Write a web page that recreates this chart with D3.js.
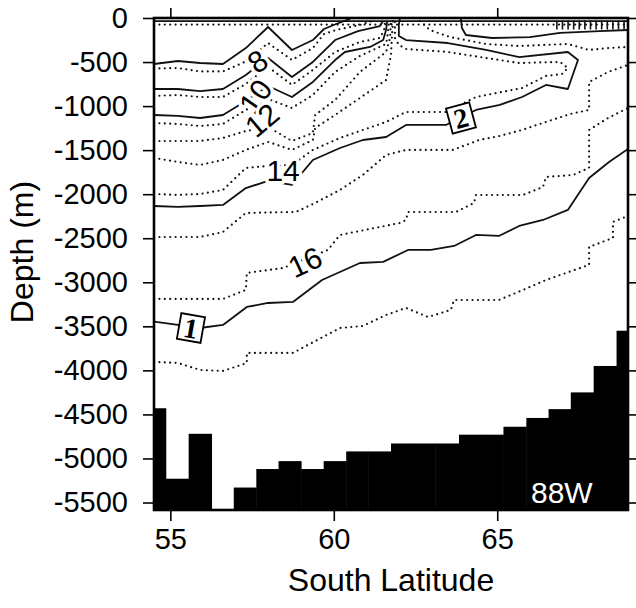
<!DOCTYPE html>
<html>
<head>
<meta charset="utf-8">
<script src="https://cdnjs.cloudflare.com/ajax/libs/d3/7.8.5/d3.min.js"></script>
<style>
  body { margin: 0; background: #fff; }
  text { font-family: 'Liberation Sans', Arial, Helvetica, sans-serif; }
</style>
</head>
<body>
<div id="grafica"></div>
<script>
// ticks
depthTicks = [0, -500, -1000, -1500, -2000, -2500, -3000, -3500, -4000, -4500, -5000, -5500]
latTicks   = [55, 60, 65]

// bottom topography: left edge of every station bin and its depth (right end at 69)
bottomLat   = [54.5, 54.86, 55.56, 56.26, 56.94, 57.63, 58.31, 59.0, 59.69, 60.38, 61.05,
               61.75, 62.42, 63.1, 63.83, 64.5, 65.19, 65.89, 66.57, 67.25, 67.95, 68.65]
bottomDepth = [-4430, -5230, -4720, -5600, -5330, -5120, -5030, -5120, -5030, -4920, -4920,
               -4830, -4830, -4830, -4730, -4730, -4640, -4540, -4440, -4250, -3950, -3550]

// contours as [latitude, depth] pairs
surfaceSolid = [[54.5, -35], [69, -35]]
surfaceDot   = [[54.5, -75], [69, -75]]
crowdedTop   = [[66.8, -80], [69, -80]]

contourS1 = [[54.5,-522],[55.23,-488],[55.91,-511],[56.61,-522],[57.31,-341],[57.99,-102],[58.72,-363],
             [59.36,-250],[59.70,-125],[60.07,-68],[60.50,-11]]
contourD1 = [[54.5,-573],[55.23,-568],[55.91,-607],[56.61,-607],[57.31,-494],[57.99,-284],[58.72,-477],
             [59.36,-341],[59.70,-182],[60.07,-136],[60.80,-79],[61.17,-34]]
contourS2 = [[54.5,-806],[55.23,-806],[55.91,-829],[56.61,-806],[57.31,-647],[57.99,-454],[58.72,-670],
             [59.36,-499],[60.04,-250],[60.74,-148],[61.41,-91],[61.51,-34]]
contourD2 = [[54.5,-885],[55.23,-874],[55.91,-897],[56.61,-897],[57.31,-749],[57.99,-556],[58.72,-760],
             [59.36,-590],[60.04,-386],[60.80,-272],[61.41,-227],[61.54,-136],[61.57,-34]]
contourS3 = [[54.5,-1101],[55.23,-1112],[55.91,-1135],[56.61,-1101],[57.31,-942],[57.99,-772],[58.72,-897],
             [59.36,-726],[60.04,-477],[60.34,-386],[61.11,-329],[61.51,-250],[61.60,-136],[61.63,-34]]
contourD3 = [[54.5,-1192],[55.23,-1203],[55.91,-1226],[56.61,-1203],[57.31,-1044],[57.99,-919],[58.72,-1022],
             [59.36,-874],[60.04,-613],[60.80,-431],[61.60,-295],[61.66,-159],[61.69,-34]]
contourD4 = [[54.5,-1396],[55.23,-1396],[55.91,-1396],[56.61,-1362],[57.31,-1283],[57.99,-1237],[58.72,-1396],
             [59.36,-1305],[59.43,-1101],[60.04,-931],[60.80,-613],[61.60,-386],[61.72,-227],[61.75,-34]]
contourD5 = [[54.5,-1589],[55.23,-1634],[55.91,-1668],[56.61,-1612],[57.31,-1498],[57.99,-1407],[58.72,-1498],
             [59.36,-1385],[59.43,-1249],[60.04,-1101],[60.80,-908],[61.60,-704],[61.75,-420],[61.78,-193],[61.81,-34]]
contourD6 = [[54.5,-1998],[55.23,-2009],[55.91,-1998],[56.61,-1952],[57.31,-1702],[57.99,-1680],[58.72,-1668],
             [59.36,-1498],[60.19,-1362],[60.89,-1271],[61.60,-1180],[62.21,-1067],[63.43,-1067],[64.35,-897],
             [65.76,-795],[66.49,-658],[66.98,-636],[67.16,-568],[66.92,-499],[65.67,-511],[64.66,-454],
             [63.49,-386],[62.21,-352],[61.99,-306],[61.87,-227],[61.87,-34]]
contourS4 = [[54.5,-2134],[55.23,-2145],[55.91,-2134],[56.61,-2122],[57.31,-1930],[57.99,-1850],[58.72,-1895],
             [59.36,-1612],[60.19,-1476],[60.89,-1385],[61.60,-1351],[62.21,-1214],[63.43,-1214],[64.35,-1044],
             [65.08,-987],[65.76,-897],[66.49,-760],[67.16,-806],[67.47,-477],[67.16,-386],[65.67,-443],
             [64.66,-363],[63.49,-284],[62.21,-250],[61.99,-204],[61.99,-79],[62.02,-11]]
contourR1 = [[54.5,-2486],[55.91,-2486],[56.61,-2429],[57.31,-2213],[58.84,-2202],[59.43,-2100],[60.19,-1952],
             [60.89,-1782],[61.60,-1555],[62.21,-1498],[63.65,-1498],[64.44,-1385],[65.08,-1339],[65.76,-1271],
             [66.49,-1180],[67.23,-1090],[67.81,-1044],[67.81,-726],[68.39,-613],[69.0,-533]]
contourR2 = [[54.5,-3189],[56.61,-3189],[57.31,-3087],[57.34,-2894],[58.45,-2838],[59.82,-2633],[60.19,-2463],
             [62.02,-2327],[62.21,-2293],[62.27,-2202],[63.74,-2202],[64.29,-2100],[64.35,-2009],[65.79,-2009],
             [66.40,-1918],[66.49,-1805],[67.32,-1782],[67.81,-1702],[67.81,-1271],[68.39,-1135],[69.0,-1022]]
contourS5 = [[54.5,-3447],[55.23,-3484],[55.91,-3519],[56.61,-3484],[57.34,-3280],[57.99,-3235],[58.75,-3223],
             [59.64,-2974],[60.80,-2781],[61.51,-2769],[62.27,-2633],[62.97,-2633],[63.68,-2588],[64.35,-2463],
             [65.05,-2474],[65.67,-2361],[66.40,-2293],[67.16,-2179],[67.81,-1816],[68.42,-1634],[69.0,-1487]]
contourR3 = [[54.5,-3904],[55.23,-3916],[55.91,-3995],[56.61,-4007],[57.34,-3916],[57.34,-3802],[58.75,-3802],
             [60.19,-3519],[60.89,-3496],[61.60,-3371],[62.21,-3292],[62.88,-3394],[63.58,-3314],[63.68,-3201],
             [65.05,-3201],[65.79,-3087],[66.49,-2974],[67.81,-2803],[67.81,-2599],[68.54,-2497],[68.54,-2315],[69.0,-2247]]
contourU1 = [[63.89,-11],[63.92,-114],[64.04,-193],[64.84,-227],[66.0,-216],[66.92,-170],[68.14,-148],[69.0,-136]]
contourU2 = [[62.64,-34],[62.94,-136],[63.55,-216],[64.66,-295],[65.67,-318],[67.16,-295],[67.81,-363],[68.39,-341],[69.0,-329]]

solidLines  = [surfaceSolid, contourS1, contourS2, contourS3, contourS4, contourS5, contourU1]
dottedLines = [surfaceDot, contourD1, contourD2, contourD3, contourD4, contourD5, contourD6,
               contourR1, contourR2, contourR3, contourU2]

// contour labels
labelText  = ['8', '10', '12', '14', '16']
labelLat   = [57.66, 57.60, 57.80, 58.45, 59.12]
labelDepth = [-490, -890, -1158, -1725, -2769]
labelAngle = [-35, -55, -40, 0, -25]

boxText  = ['2', '1']
boxLat   = [63.89, 55.63]
boxDepth = [-1135, -3519]
boxAngle = [-15, 10]

ancho_total = 636
alto_total  = 608
margin = { left: 154, right: 8, top: 18, bottom: 98 }

ancho = ancho_total - margin.left - margin.right
alto  = alto_total - margin.top - margin.bottom

svg = d3
        .select('#grafica')
        .append('svg')
        .attr('width', ancho_total)
        .attr('height', alto_total)

g = svg
      .append('g')
      .attr('transform', `translate(${margin.left}, ${margin.top})`)

x = d3
      .scaleLinear()
      .domain([54.5, 69])
      .range([0, ancho])
y = d3
      .scaleLinear()
      .domain([0, -5585])
      .range([0, alto])

g.append('clipPath')
  .attr('id', 'plotclip')
  .append('rect')
  .attr('width', ancho)
  .attr('height', alto)

plot = g.append('g').attr('clip-path', 'url(#plotclip)')

linea = d3
          .line()
          .x((d) => x(d[0]))
          .y((d) => y(d[1]))

// dotted contours
plot.selectAll('path.dot')
  .data(dottedLines)
  .enter()
  .append('path')
  .attr('class', 'dot')
  .attr('d', linea)
  .attr('fill', 'none')
  .attr('stroke', '#111')
  .attr('stroke-width', 2.2)
  .attr('stroke-linecap', 'round')
  .attr('stroke-dasharray', '0 5.4')

// solid contours
plot.selectAll('path.solid')
  .data(solidLines)
  .enter()
  .append('path')
  .attr('class', 'solid')
  .attr('d', linea)
  .attr('fill', 'none')
  .attr('stroke', '#111')
  .attr('stroke-width', 1.8)
  .attr('stroke-linejoin', 'round')

// crowded lines right under the surface
plot.append('path')
  .attr('d', linea(crowdedTop))
  .attr('stroke', '#111')
  .attr('stroke-width', 9)
  .attr('stroke-dasharray', '1.6 4')

// bottom
bottomBins = bottomLat.map((d, i) => ({
  x0: d,
  x1: i < bottomLat.length - 1 ? bottomLat[i + 1] : 69,
  depth: bottomDepth[i]
}))

plot.selectAll('rect.bottom')
  .data(bottomBins)
  .enter()
  .append('rect')
  .attr('class', 'bottom')
  .attr('x', (d) => x(d.x0))
  .attr('width', (d) => x(d.x1) - x(d.x0) + 0.5)
  .attr('y', (d) => y(d.depth))
  .attr('height', (d) => alto - y(d.depth) + 2)
  .attr('fill', '#000')

// labels on contours
etiquetas = g.selectAll('g.lab')
  .data(labelText)
  .enter()
  .append('g')
  .attr('class', 'lab')
  .attr('transform', (d, i) => `translate(${x(labelLat[i])}, ${y(labelDepth[i])}) rotate(${labelAngle[i]})`)

etiquetas.append('text')
  .attr('text-anchor', 'middle')
  .attr('dy', '0.36em')
  .attr('font-size', '30px')
  .attr('stroke', '#fff')
  .attr('stroke-width', 7)
  .attr('stroke-linejoin', 'round')
  .attr('fill', '#fff')
  .text((d) => d)
etiquetas.append('text')
  .attr('text-anchor', 'middle')
  .attr('dy', '0.36em')
  .attr('font-size', '30px')
  .attr('fill', '#000')
  .text((d) => d)

cajas = g.selectAll('g.box')
  .data(boxText)
  .enter()
  .append('g')
  .attr('class', 'box')
  .attr('transform', (d, i) => `translate(${x(boxLat[i])}, ${y(boxDepth[i])}) rotate(${boxAngle[i]})`)

cajas.append('rect')
  .attr('x', -12)
  .attr('y', -13)
  .attr('width', 24)
  .attr('height', 26)
  .attr('fill', '#fff')
  .attr('stroke', '#000')
  .attr('stroke-width', 1.8)
cajas.append('text')
  .attr('text-anchor', 'middle')
  .attr('dy', '0.35em')
  .attr('font-size', '28px')
  .attr('font-weight', 'bold')
  .style('font-family', "'Liberation Serif', 'Times New Roman', serif")
  .text((d) => d)

// section name
g.append('text')
  .attr('x', ancho - 97)
  .attr('y', alto - 7)
  .attr('font-size', '30px')
  .attr('fill', '#fff')
  .text('88W')

// axes
yAxisCall = d3.axisLeft(y).tickValues(depthTicks).tickSize(11).tickPadding(15).tickFormat((d) => String(d))
yGroup = g.append('g').call(yAxisCall)
yGroup.select('.domain').remove()
yGroup.selectAll('text').attr('font-size', '29px').style('font-family', "'Liberation Sans', Arial, sans-serif")

rAxisCall = d3.axisRight(y).tickValues(depthTicks).tickSize(9).tickFormat('')
rGroup = g.append('g').attr('transform', `translate(${ancho}, 0)`).call(rAxisCall)
rGroup.select('.domain').remove()

xAxisCall = d3.axisBottom(x).tickValues(latTicks).tickSize(11).tickPadding(7).tickFormat((d) => String(d))
xGroup = g.append('g').attr('transform', `translate(0, ${alto})`).call(xAxisCall)
xGroup.select('.domain').remove()
xGroup.selectAll('text').attr('font-size', '29px').style('font-family', "'Liberation Sans', Arial, sans-serif")

tAxisCall = d3.axisTop(x).tickValues(latTicks).tickSize(10).tickFormat('')
tGroup = g.append('g').call(tAxisCall)
tGroup.select('.domain').remove()

g.selectAll('.tick line').attr('stroke', '#000').attr('stroke-width', 1.6)

// frame
g.append('rect')
  .attr('width', ancho)
  .attr('height', alto)
  .attr('fill', 'none')
  .attr('stroke', '#000')
  .attr('stroke-width', 2.6)

// axis titles
svg.append('text')
  .attr('x', margin.left + ancho / 2)
  .attr('y', 591)
  .attr('text-anchor', 'middle')
  .attr('font-size', '32px')
  .text('South Latitude')

svg.append('text')
  .attr('transform', 'translate(33, 252) rotate(-90)')
  .attr('text-anchor', 'middle')
  .attr('font-size', '32px')
  .text('Depth (m)')
</script>
</body>
</html>
